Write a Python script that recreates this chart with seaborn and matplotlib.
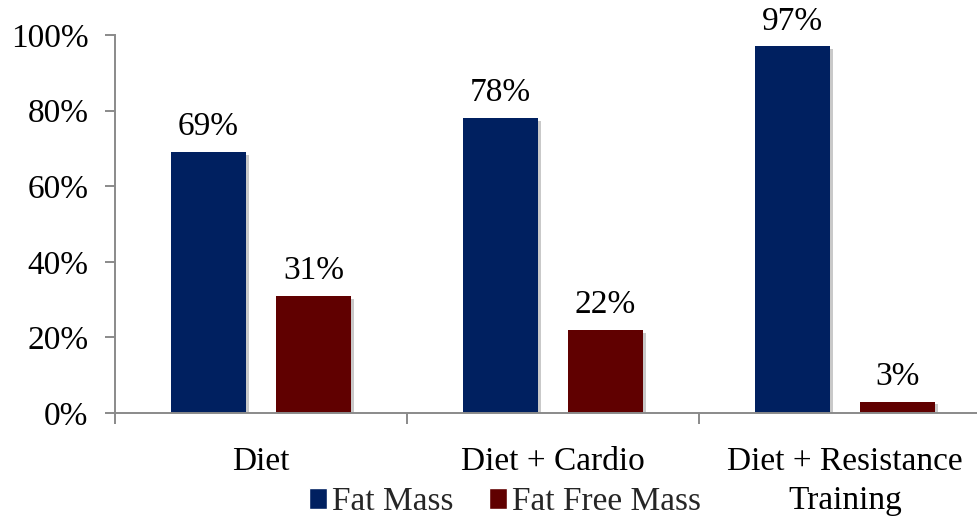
import matplotlib
matplotlib.use("Agg")
import matplotlib.pyplot as plt
import matplotlib.patheffects as pe
import seaborn as sns
import pandas as pd

categories = ["Diet", "Diet + Cardio", "Diet + Resistance\nTraining"]
fat_mass = [69, 78, 97]
fat_free_mass = [31, 22, 3]
series_names = ["Fat Mass", "Fat Free Mass"]
y_ticks = [0, 20, 40, 60, 80, 100]
y_tick_labels = ["0%", "20%", "40%", "60%", "80%", "100%"]

df = pd.DataFrame({
    "Group": categories * 2,
    "Value": fat_mass + fat_free_mass,
    "Component": [series_names[0]] * len(categories) + [series_names[1]] * len(categories),
})

sns.set_theme(style="white")
plt.rcParams["font.family"] = ["Liberation Serif", "DejaVu Serif"]

W, H = 977, 524
fig = plt.figure(figsize=(W / 100, H / 100), dpi=100)
left_px, right_px, top_px, bottom_px = 115, 991, 35, 413
ax = fig.add_axes([left_px / W, 1 - bottom_px / H, (right_px - left_px) / W, (bottom_px - top_px) / H])

sns.barplot(data=df, x="Group", y="Value", hue="Component", order=categories,
            hue_order=series_names, palette=["#002060", "#600000"],
            width=0.72, gap=0.29, ax=ax, saturation=1, legend=True)

shadow = [pe.SimplePatchShadow(offset=(2.5, -2), shadow_rgbFace="#888888", alpha=0.45), pe.Normal()]
for cont in ax.containers:
    for bar in cont:
        bar.set_path_effects(shadow)
        bar.set_edgecolor("none")
    ax.bar_label(cont, labels=[f"{b.get_height():.0f}%" for b in cont], padding=7,
                 fontsize=24, color="black")

ax.set_xlim(-0.5, 2.5)
ax.set_ylim(0, 100)
ax.set_yticks(y_ticks)
ax.set_yticklabels(y_tick_labels)
ax.set_xlabel("")
ax.set_ylabel("")

for s in ["top", "right"]:
    ax.spines[s].set_visible(False)
for s in ["left", "bottom"]:
    ax.spines[s].set_color("#8a8a8a")
    ax.spines[s].set_linewidth(1.4)

ax.tick_params(axis="y", which="major", direction="out", length=7, width=1.4,
               color="#8a8a8a", labelsize=24, labelcolor="black", pad=12, left=True)
ax.tick_params(axis="x", which="major", length=0, labelsize=24, labelcolor="black", pad=24)
ax.set_xticks([-0.5, 0.5, 1.5, 2.5], minor=True)
ax.tick_params(axis="x", which="minor", direction="out", length=8, width=1.4,
               color="#8a8a8a", bottom=True)
for lab in ax.get_xticklabels():
    lab.set_linespacing(1.35)

handles, labels = ax.get_legend_handles_labels()
ax.get_legend().remove()
fig.legend(handles, labels, loc="center", bbox_to_anchor=(505 / W, 1 - 502 / H),
           ncol=2, frameon=False, fontsize=24, handlelength=0.55, handleheight=0.55,
           handletextpad=0.15, columnspacing=1.05, borderaxespad=0, borderpad=0)

fig.savefig("out.png", dpi=100)
